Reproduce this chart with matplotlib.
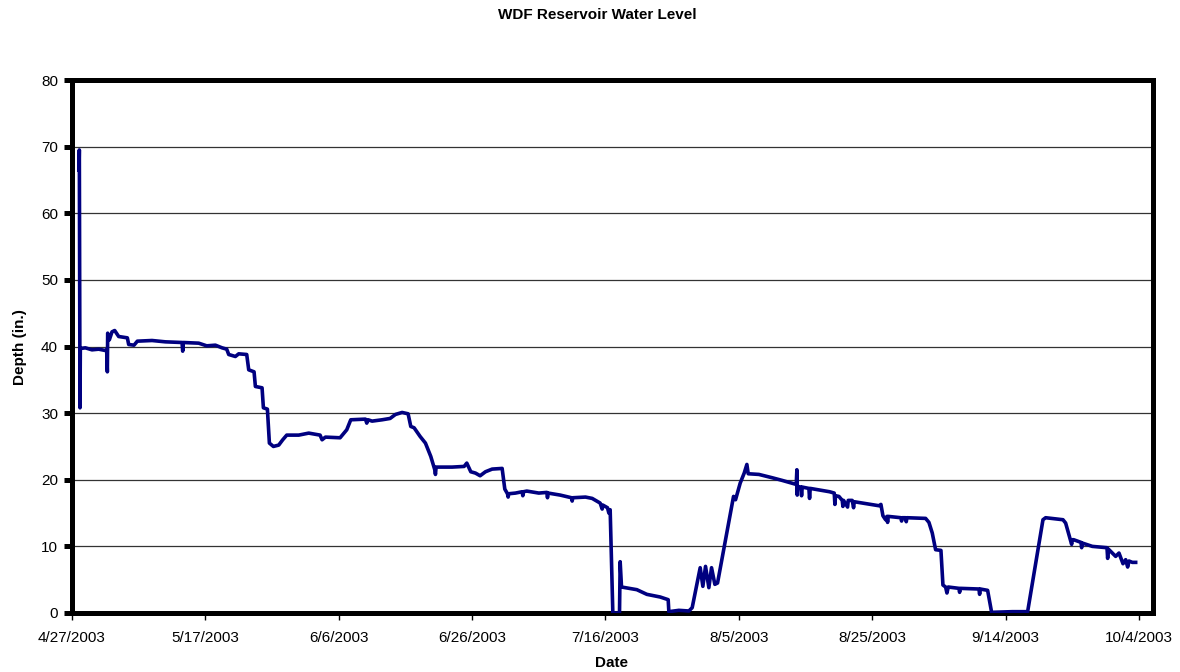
import numpy as np
import pandas as pd
import matplotlib
matplotlib.use("Agg")
import matplotlib.pyplot as plt

# -----------------------
# Datos (días desde 4/27/2003, profundidad en pulgadas)
# -----------------------
START = pd.Timestamp("2003-04-27")

days = [
    1.05, 1.1, 1.15, 1.2, 1.25, 2.0, 3.0, 4.0, 5.0, 5.2, 5.3, 5.35, 5.6, 6.0, 6.4, 7.0,
    8.3, 8.5, 9.3, 9.8, 12.0, 14.0, 16.5, 16.6, 16.7, 19.0, 20.2, 21.5, 22.5, 23.2,
    23.5, 24.5, 25.0, 26.2, 26.5, 27.3, 27.5, 28.5, 28.7, 29.3, 29.6, 30.2, 31.0, 31.6,
    32.2, 34.0, 35.5, 37.2, 37.5, 38.0, 40.2, 41.2, 41.8, 44.0, 44.2, 44.4, 45.0, 46.5,
    47.7, 48.5, 49.5, 50.4, 50.8, 51.3, 52.2, 53.0, 53.8, 54.4, 54.5, 54.6, 57.0, 58.8,
    59.2, 59.8, 60.5, 61.2, 62.0, 63.0, 64.5, 64.9, 65.3, 65.4, 65.5, 66.5, 67.5, 67.6,
    67.7, 68.2, 70.0, 71.2, 71.3, 71.4, 73.2, 74.9, 75.0, 75.1, 77.0, 78.0, 79.2, 79.5,
    79.6, 80.3, 80.5, 80.7, 81.1, 82.1, 82.2, 82.4, 84.7, 86.2, 88.2, 89.4, 89.5, 91.0,
    92.5, 93.0, 94.2, 94.6, 95.0, 95.5, 95.9, 96.4, 96.8, 99.2, 99.5, 100.2, 100.8, 101.2,
    101.4, 103.0, 105.0, 106.5, 108.6, 108.7, 108.75, 108.8, 109.3, 109.4, 109.5, 110.5,
    110.6, 110.7, 113.6, 114.3, 114.4, 114.5, 115.0, 115.5, 115.6, 115.7, 116.3, 116.4,
    117.0, 117.2, 117.3, 121.0, 121.3, 121.6, 122.0, 122.2, 122.3, 122.4, 124.3, 124.4,
    124.5, 125.0, 125.1, 125.2, 128.0, 128.5, 129.0, 129.5, 130.3, 130.6, 131.0, 131.2,
    131.4, 133.0, 133.1, 133.2, 136.0, 136.1, 136.2, 137.3, 137.9, 141.0, 143.3, 145.6,
    146.0, 148.6, 149.0, 149.6, 149.9, 150.0, 150.2, 151.3, 151.4, 151.5, 153.0, 155.2,
    155.3, 155.4, 156.5, 157.0, 157.6, 158.0, 158.3, 158.5, 159.0, 159.5,
]

depth = [
    66.5, 69.5, 50.0, 30.8, 39.7, 39.8, 39.5, 39.6, 39.4, 39.5, 36.2, 42.0, 41.0, 42.2, 42.4, 41.5,
    41.3, 40.3, 40.2, 40.8, 40.9, 40.7, 40.6, 39.3, 40.6, 40.5, 40.1, 40.2, 39.8, 39.6,
    38.8, 38.5, 38.9, 38.8, 36.5, 36.2, 34.0, 33.8, 30.8, 30.6, 25.5, 25.0, 25.2, 26.0,
    26.7, 26.7, 27.0, 26.7, 26.0, 26.4, 26.3, 27.5, 29.0, 29.1, 28.5, 29.0, 28.8, 29.0,
    29.2, 29.8, 30.1, 29.9, 28.0, 27.8, 26.5, 25.5, 23.5, 21.5, 20.8, 21.9, 21.9, 22.0,
    22.5, 21.2, 21.0, 20.6, 21.2, 21.6, 21.7, 18.6, 17.9, 17.4, 17.9, 18.0, 18.2, 17.6,
    18.2, 18.3, 18.0, 18.1, 17.3, 18.0, 17.7, 17.3, 16.8, 17.3, 17.4, 17.2, 16.5, 15.6,
    16.2, 15.8, 15.0, 15.5, 0.0, 0.0, 7.7, 3.9, 3.5, 2.8, 2.4, 2.0, 0.2, 0.4,
    0.3, 0.8, 6.8, 4.0, 7.0, 3.8, 6.8, 4.3, 4.5, 17.5, 17.0, 19.5, 21.0, 22.3,
    20.9, 20.8, 20.3, 19.9, 19.3, 21.5, 17.7, 19.0, 18.9, 17.6, 18.9, 18.7,
    17.2, 18.7, 18.2, 18.0, 16.3, 17.6, 17.5, 16.9, 16.0, 16.9, 15.9, 16.9,
    16.9, 15.8, 16.7, 16.1, 16.3, 14.6, 14.0, 14.5, 13.6, 14.5, 14.3, 13.8,
    14.3, 14.3, 13.7, 14.3, 14.2, 13.6, 12.0, 9.5, 9.4, 4.2, 3.9, 3.0,
    3.9, 3.7, 3.1, 3.7, 3.6, 2.8, 3.6, 3.4, 0.1, 0.2, 0.2, 14.0,
    14.3, 14.0, 13.5, 11.4, 10.3, 11.0, 11.0, 10.6, 9.8, 10.5, 10.0, 9.8,
    8.2, 9.6, 8.5, 9.0, 7.4, 8.0, 6.9, 7.8, 7.6, 7.6,
]

tick_days = [0, 20, 40, 60, 80, 100, 120, 140, 160]
y_ticks = [0, 10, 20, 30, 40, 50, 60, 70, 80]

plt.rcParams['font.family'] = ['Liberation Sans', 'DejaVu Sans']

W, H = 1180, 672
fig = plt.figure(figsize=(W / 100, H / 100), dpi=100)
ax = fig.add_axes([72 / W, 1 - 613 / H, (1153 - 72) / W, (613 - 80) / H])

dates = START + pd.to_timedelta(days, unit='D')
ax.plot(dates, depth, color='#000080', linewidth=2.6, zorder=3)

ax.set_xlim(START, START + pd.Timedelta(days=162.1))
ax.set_ylim(0, 80)
ax.set_yticks(y_ticks)
tick_dates = [START + pd.Timedelta(days=d) for d in tick_days]
ax.set_xticks(tick_dates)
ax.set_xticklabels([f"{d.month}/{d.day}/{d.year}" for d in tick_dates])

ax.grid(axis='y', color='#333333', linewidth=0.9)
ax.grid(axis='x', visible=False)
for s in ax.spines.values():
    s.set_linewidth(3.6)
ax.tick_params(axis='y', length=6, width=3.6, labelsize=11, pad=4)
ax.tick_params(axis='x', length=5, width=1, labelsize=11, pad=8)

fig.text(597 / W, 1 - 15 / H, "WDF Reservoir Water Level", ha='center', va='center',
         fontsize=11, fontweight='bold')
fig.text(20 / W, 1 - 347 / H, "Depth (in.)", ha='center', va='center', rotation=90,
         fontsize=11, fontweight='bold')
fig.text(612 / W, 1 - 663 / H, "Date", ha='center', va='center',
         fontsize=11, fontweight='bold')

fig.savefig("out.png", dpi=100)
